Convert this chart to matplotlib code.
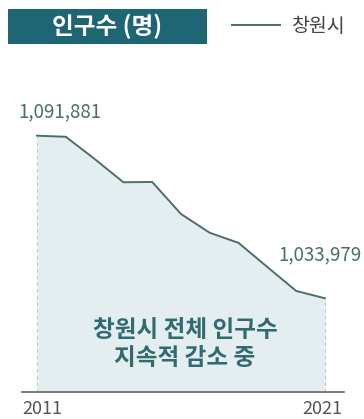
import matplotlib
matplotlib.use("Agg")
import matplotlib.pyplot as plt
from matplotlib.patches import Rectangle
from matplotlib.lines import Line2D

plt.rcParams['font.family'] = ['Noto Sans CJK KR', 'DejaVu Sans']

years = [2011, 2012, 2013, 2014, 2015, 2016, 2017, 2018, 2019, 2020, 2021]
population = [1091881, 1091500, 1083600, 1075300, 1075400, 1064000,
              1057300, 1053700, 1045100, 1036600, 1033979]
title_text = "인구수 (명)"
legend_label = "창원시"
annotation_lines = ["창원시 전체 인구수", "지속적 감소 중"]
tick_labels = ["2011", "2021"]

W, H = 364, 419
fig = plt.figure(figsize=(W / 100, H / 100), dpi=100)
fig.patch.set_facecolor("white")

ax_left, ax_right = 22, 344
ax_top, ax_bottom = 100, 392
ax = fig.add_axes([ax_left / W, (H - ax_bottom) / H,
                   (ax_right - ax_left) / W, (ax_bottom - ax_top) / H])

px_per_year = (325 - 37) / 10
ax.set_xlim(2011 - (37 - ax_left) / px_per_year, 2021 + (ax_right - 325) / px_per_year)
v_per_px = (population[0] - population[-1]) / (298.3 - 135.7)
ax.set_ylim(population[0] - v_per_px * (ax_bottom - 135.7),
            population[0] + v_per_px * (135.7 - ax_top))

line_color = "#4f6d6d"
fill_color = "#e4eef0"
ymin = ax.get_ylim()[0]
ax.fill_between(years, population, ymin, color=fill_color, lw=0)
ax.plot(years, population, color=line_color, lw=1.4, solid_joinstyle="round")
for xv, yv in [(years[0], population[0]), (years[-1], population[-1])]:
    ax.plot([xv, xv], [ymin, yv], color="#c0c6c8", lw=0.8, ls=(0, (3, 3)))

for s in ["top", "right", "left"]:
    ax.spines[s].set_visible(False)
ax.spines["bottom"].set_color("#666666")
ax.spines["bottom"].set_linewidth(1.2)
ax.set_xticks([])
ax.set_yticks([])
ax.patch.set_alpha(0)

tick_color = "#555555"
fig.text(ax_left / W, 1 - 409 / H, tick_labels[0], ha="left", va="center",
         fontsize=13, color=tick_color)
fig.text(342 / W, 1 - 409 / H, tick_labels[1], ha="right", va="center",
         fontsize=13, color=tick_color)

val_color = "#4b6d6b"
fig.text(18 / W, 1 - 112 / H, f"{population[0]:,}", ha="left", va="center",
         fontsize=13.5, color=val_color)
fig.text(278 / W, 1 - 255 / H, f"{population[-1]:,}", ha="left", va="center",
         fontsize=13.5, color=val_color)

ann_color = "#2f6b70"
fig.text(185 / W, 1 - 330 / H, annotation_lines[0], ha="center", va="center",
         fontsize=17, color=ann_color, fontweight="bold")
fig.text(185 / W, 1 - 358 / H, annotation_lines[1], ha="center", va="center",
         fontsize=17, color=ann_color, fontweight="bold")

fig.patches.append(Rectangle((8 / W, 1 - 44 / H), (207 - 8) / W, (44 - 9) / H,
                             transform=fig.transFigure, facecolor="#1f6675",
                             edgecolor="none"))
fig.text(107 / W, 1 - 26.5 / H, title_text, ha="center", va="center",
         fontsize=17, color="white", fontweight="bold")

fig.lines.append(Line2D([232 / W, 280 / W], [1 - 25 / H, 1 - 25 / H],
                        transform=fig.transFigure, color=line_color, lw=1.4))
fig.text(292 / W, 1 - 26 / H, legend_label, ha="left", va="center",
         fontsize=14, color="#444444")

fig.savefig("out.png", dpi=100)
